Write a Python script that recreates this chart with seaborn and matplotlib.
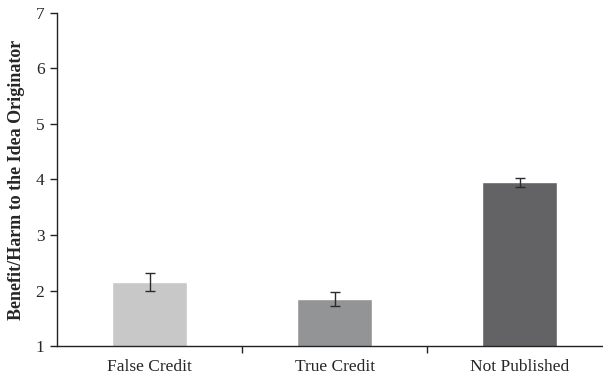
import matplotlib
matplotlib.use("Agg")
import matplotlib.pyplot as plt
import seaborn as sns
import pandas as pd
from matplotlib.ticker import FixedLocator

conditions = ["False Credit", "True Credit", "Not Published"]
means = [2.15, 1.85, 3.95]
errors = [0.16, 0.13, 0.08]
bar_colors = ["#C8C8C9", "#939496", "#636365"]
y_ticks = [1, 2, 3, 4, 5, 6, 7]

sns.set_style("white")
plt.rcParams["font.family"] = ["Liberation Serif", "DejaVu Serif"]

df = pd.DataFrame({"condition": conditions, "mean": means})

fig = plt.figure(figsize=(6.03, 3.79), dpi=100)
ax = fig.add_axes([0.0945, 0.087, 0.9055, 0.879])

sns.barplot(data=df, x="condition", y="mean", hue="condition",
            palette=bar_colors, width=0.405, errorbar=None,
            legend=False, saturation=1, ax=ax)
ax.errorbar(range(len(conditions)), means, yerr=errors, fmt="none",
            ecolor="#2b2b2b", elinewidth=1.0, capsize=3.5, capthick=1.0)

ax.set_ylim(1, 7)
ax.set_xlim(-0.5, 2.45)
ax.set_yticks(y_ticks)
ax.set_yticklabels([str(t) for t in y_ticks], fontsize=12.5)
ax.set_xticks(range(len(conditions)))
ax.set_xticklabels(conditions, fontsize=12.5)
ax.tick_params(axis="x", which="major", length=0, pad=9)
ax.xaxis.set_minor_locator(FixedLocator([0.5, 1.5]))
ax.tick_params(axis="x", which="minor", direction="out", length=5,
               width=1.0, color="#222222", bottom=True)
ax.tick_params(axis="y", which="major", direction="out", length=5,
               width=1.0, color="#222222", left=True, pad=4)

ax.set_xlabel("")
ax.set_ylabel("Benefit/Harm to the Idea Originator", fontsize=13,
              fontweight="bold", labelpad=8)

for side in ["top", "right"]:
    ax.spines[side].set_visible(False)
for side in ["left", "bottom"]:
    ax.spines[side].set_color("#222222")
    ax.spines[side].set_linewidth(1.0)

fig.savefig("out.png", dpi=100)
